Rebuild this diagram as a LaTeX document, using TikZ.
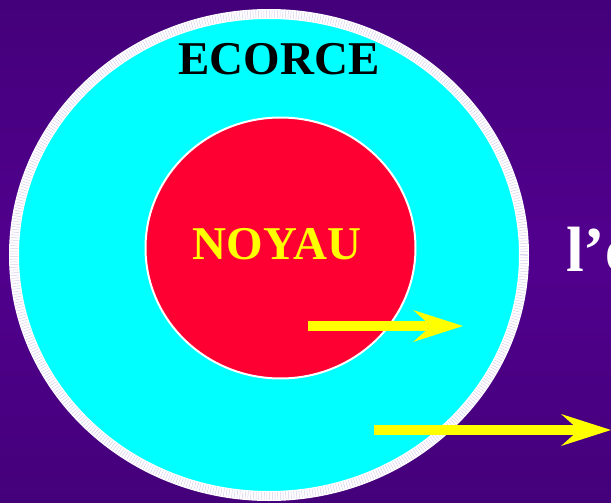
\documentclass[tikz,border=0pt]{standalone}
\usepackage{fontspec}
\setmainfont{Liberation Serif}
\usetikzlibrary{arrows.meta}
\definecolor{bgviolet}{HTML}{44007A}
\definecolor{bgvioletmid}{HTML}{51008E}
\definecolor{ecorcecyan}{HTML}{00FFFF}
\definecolor{noyaured}{HTML}{FF0033}
\definecolor{flecheyellow}{HTML}{FFFF00}
\definecolor{ticklilac}{HTML}{D8CFEF}

\begin{document}
\begin{tikzpicture}[x=1pt,y=-1pt,
    fleche/.style={line width=10.5pt,flecheyellow,-{Stealth[length=50pt,width=32pt,inset=18pt,line width=0pt]}},
    titre/.style={inner sep=0pt,font=\bfseries\fontsize{47}{47}\selectfont}]
  \useasboundingbox (0,0) rectangle (611,503);
  \clip (0,0) rectangle (611,503);
  \shade[top color=bgviolet,bottom color=bgviolet,middle color=bgvioletmid] (0,0) rectangle (611,503);
  \fill[ecorcecyan] (269,255) ellipse [x radius=255, y radius=241];
  \draw[white,line width=10pt] (269,255) ellipse [x radius=255, y radius=241];
  \draw[ticklilac,line width=8pt,dash pattern=on 0.5pt off 2.2pt] (269,255) ellipse [x radius=255, y radius=241];
  \draw[white,line width=2pt,fill=noyaured] (280.5,248) ellipse [x radius=135, y radius=130.5];
  \node[titre] (ecorce) at (279,59) {ECORCE};
  \node[titre,flecheyellow] (noyau) at (277,244) {NOYAU};
  \node[anchor=base west,inner sep=0pt,white,font=\bfseries\fontsize{64}{64}\selectfont] (legende) at (566,271) {l’é};
  \coordinate (a1) at (308,326);
  \coordinate (b1) at (463,326);
  \coordinate (a2) at (374,430);
  \coordinate (b2) at (611,430);
  \draw[fleche] (a1) -- (b1);
  \draw[fleche] (a2) -- (b2);
\end{tikzpicture}
\end{document}
